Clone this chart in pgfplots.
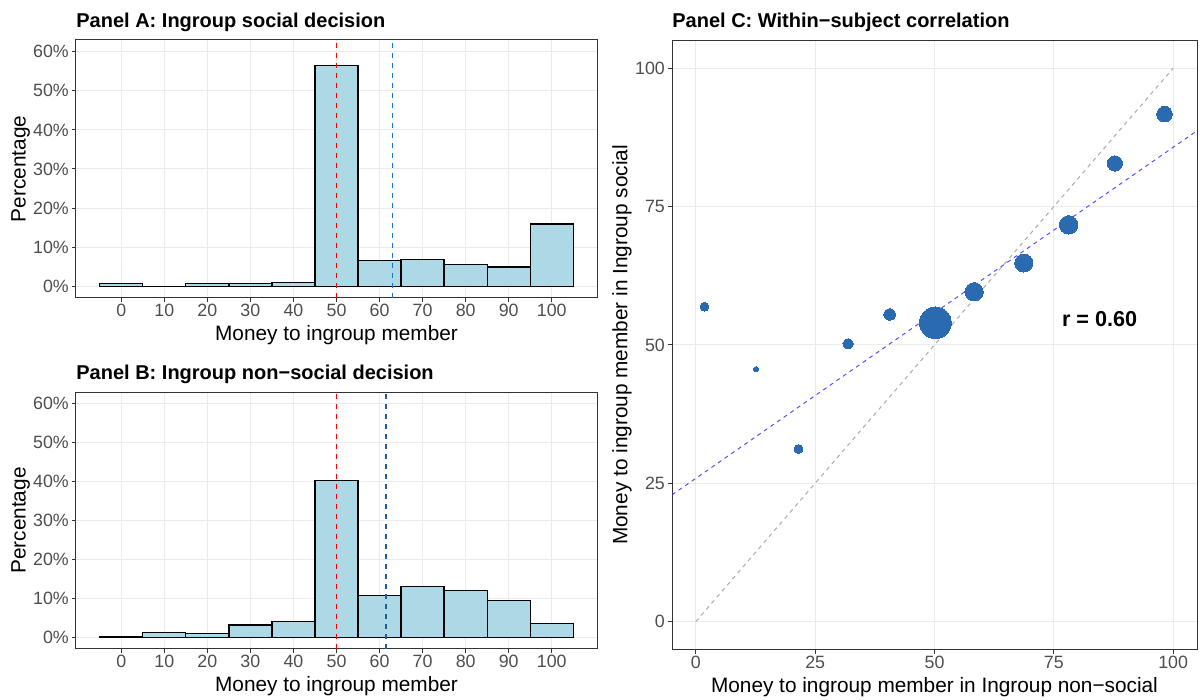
\documentclass[border=0pt]{standalone}
\usepackage{fontspec}
\setmainfont{Liberation Sans}
\usepackage{pgfplots}
\pgfplotsset{compat=1.18}
\usepackage{pgfplotstable}

\definecolor{barfill}{HTML}{ADD8E6}
\definecolor{gridgray}{HTML}{EBEBEB}
\definecolor{framegray}{HTML}{333333}
\definecolor{ticktext}{HTML}{4D4D4D}
\definecolor{meanA}{HTML}{1874CD}
\definecolor{meanB}{HTML}{1F5C9E}
\definecolor{pointblue}{HTML}{2A6AB0}
\definecolor{fitblue}{HTML}{3333FF}
\definecolor{idgray}{HTML}{AAAAAA}

% percentage of participants per 10-unit bin
\pgfplotstableread{
x pct
0 0.7
10 0
20 0.7
30 0.7
40 1.0
50 56.4
60 6.6
70 6.9
80 5.5
90 4.9
100 15.9
}\socialtab

\pgfplotstableread{
x pct
0 0.25
10 1.3
20 1.0
30 3.2
40 4.1
50 40.3
60 10.8
70 13.0
80 12.0
90 9.5
100 3.5
}\nonsocialtab

% bin means, r = marker radius (pt)
\pgfplotstableread{
x y r
1.8 56.9 2.2
12.6 45.6 1.3
21.5 31.2 2.2
31.9 50.2 2.6
40.6 55.5 2.9
50.2 54.0 7.9
58.3 59.6 4.6
68.7 64.8 4.5
78.1 71.7 4.6
87.8 82.8 3.8
98.2 91.7 3.9
}\pointtab

\pgfplotsset{
  ggbase/.style={
    scale only axis,
    anchor=north west,
    /pgf/number format/assume math mode=true,
    axis line style={draw=framegray, line width=0.5pt},
    grid=major,
    major grid style={draw=gridgray, line width=0.5pt},
    tick align=outside,
    major tick length=2.2pt,
    tick style={draw=framegray, line width=0.5pt},
    xtick pos=bottom, ytick pos=left,
    ticklabel style={font=\fontsize{8.9}{10}\selectfont, text=ticktext},
    xticklabel style={anchor=base, inner sep=0pt, yshift=-7.25pt},
    yticklabel style={anchor=east, inner sep=0pt, xshift=-1.2pt},
    label style={font=\fontsize{10.4}{12}\selectfont},
    xlabel style={at={(axis description cs:0.5,0)}, anchor=base, yshift=-21.5pt},
    title style={at={(0,1)}, anchor=base west, inner sep=0pt, yshift=0.3pt,
      font=\fontsize{10}{12}\selectfont\bfseries},
  },
  gghist/.style={
    ggbase,
    width=260.5pt,
    xmin=-10.5, xmax=110.5, ymin=-3, ymax=63,
    xtick={0,10,...,100}, ytick={0,10,...,60},
    yticklabel={\pgfmathprintnumber{\tick}\%},
    xlabel={Money to ingroup member},
    ylabel={Percentage},
    ylabel style={at={(axis description cs:-0.0969,0.5)}, anchor=base},
  },
}

\begin{document}
\begin{tikzpicture}
\useasboundingbox (0,0) rectangle (600pt,-350pt);

\begin{axis}[gghist, at={(38pt,-20pt)}, height=129pt,
  title={Panel A: Ingroup social decision}]
  \addplot[ybar, bar width=10, bar shift=0pt, fill=barfill, draw=black, line width=0.7pt]
    table[x=x, y=pct] {\socialtab};
  \addplot[red, line width=0.65pt, dash pattern=on 2.5pt off 2.5pt] coordinates {(50,-3) (50,63)};
  \addplot[meanA, line width=0.65pt, dash pattern=on 2.5pt off 2.5pt] coordinates {(63,-3) (63,63)};
\end{axis}

\begin{axis}[gghist, at={(38pt,-196pt)}, height=128.5pt,
  title={Panel B: Ingroup non−social decision}]
  \addplot[ybar, bar width=10, bar shift=0pt, fill=barfill, draw=black, line width=0.7pt]
    table[x=x, y=pct] {\nonsocialtab};
  \addplot[red, line width=0.65pt, dash pattern=on 2.5pt off 2.5pt] coordinates {(50,-3) (50,63)};
  \addplot[meanB, line width=0.65pt, dash pattern=on 2.5pt off 2.5pt] coordinates {(61.5,-3) (61.5,63)};
\end{axis}

\begin{axis}[ggbase, at={(336pt,-20.3pt)}, width=262.5pt, height=304.3pt,
  xmin=-5, xmax=105, ymin=-5, ymax=105,
  xtick={0,25,...,100}, ytick={0,25,...,100},
  title={Panel C: Within−subject correlation},
  xlabel={Money to ingroup member in Ingroup non−social},
  ylabel={Money to ingroup member in Ingroup social},
  ylabel style={at={(axis description cs:-0.0848,0.5)}, anchor=base}]
  \addplot[scatter, only marks, mark=*,
    mark options={draw=pointblue, fill=pointblue, line width=0pt},
    scatter/use mapped color={draw=pointblue, fill=pointblue},
    visualization depends on={\thisrow{r} \as \rad},
    scatter/@pre marker code/.append style={/tikz/mark size=\rad}]
    table[x=x, y=y] {\pointtab};
  \addplot[idgray, line width=0.5pt, dash pattern=on 2pt off 2pt] coordinates {(0,0) (100,100)};
  \addplot[fitblue, opacity=0.85, line width=0.5pt, dash pattern=on 2pt off 2pt] coordinates {(-5,22.9) (105,88.7)};
  \node[font=\fontsize{10.8}{12}\selectfont\bfseries] at (axis cs:84.6,54.7) {r = 0.60};
\end{axis}
\end{tikzpicture}
\end{document}
